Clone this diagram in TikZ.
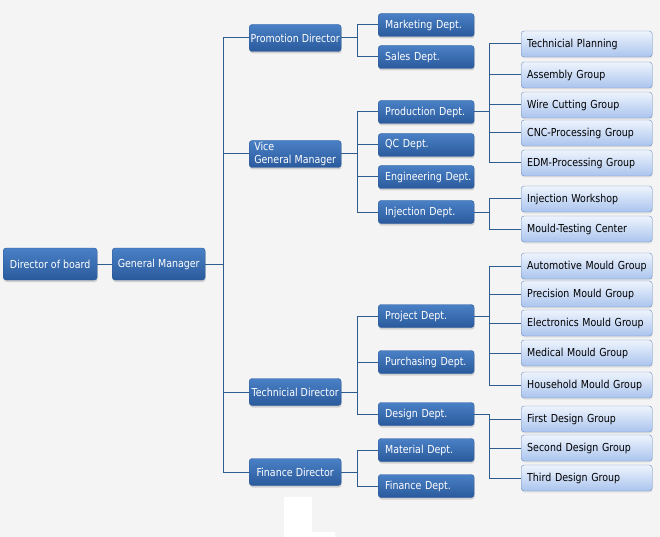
\documentclass[tikz,border=0pt]{standalone}
\usepackage{fontspec}
\setmainfont{DejaVu Sans}[FakeStretch=0.86]
\usetikzlibrary{shadows}

\definecolor{bgcol}{HTML}{F4F4F4}
\definecolor{boxtop}{HTML}{4A80C6}
\definecolor{boxbot}{HTML}{2A5A9C}
\definecolor{grptop}{HTML}{EEF4FD}
\definecolor{grpbot}{HTML}{AAC4EE}
\definecolor{grpline}{HTML}{6E8FC2}
\definecolor{linecol}{HTML}{2E5C8E}

\tikzset{
    darkbox/.style={rounded corners=3pt, top color=boxtop, bottom color=boxbot, draw=boxbot,
        text=white, inner ysep=0pt,
        drop shadow={shadow xshift=0.5pt, shadow yshift=-2pt, opacity=0.3}},
    headbox/.style={darkbox, minimum width=94pt, minimum height=32pt, inner xsep=0pt},
    dirbox/.style={darkbox, minimum width=92pt, minimum height=27pt, inner xsep=0pt, align=center},
    deptbox/.style={darkbox, minimum height=23pt, inner xsep=7pt, text width=82pt, align=left},
    grpbox/.style={rounded corners=3pt, top color=grptop, bottom color=grpbot, draw=grpline,
        text=black, minimum height=26pt, inner ysep=0pt, inner xsep=6pt, text width=119pt, align=left,
        drop shadow={shadow xshift=0.5pt, shadow yshift=-1.5pt, opacity=0.15}},
    conn/.style={draw=linecol, line width=1pt}
}

\begin{document}
\begin{tikzpicture}[x=1pt, y=-1pt, font=\fontsize{11}{13}\selectfont]
    \useasboundingbox (0,0) rectangle (660,537);
    \fill[bgcol] (0,0) rectangle (660,537);
    \fill[white] (284,497) -- (312,497) -- (312,532) -- (335,532) -- (335,537) -- (284,537) -- cycle;

    % top of the chart
    \node[headbox, anchor=west] (dob) at (3,264) {Director of board};
    \node[headbox, anchor=west, minimum width=93pt] (gm) at (112,264) {General Manager};
    \draw[conn] (dob) -- (gm);
    \draw[conn] (gm.east) -- ++(18,0) coordinate (trunk);

    % directors
    \node[dirbox, anchor=west] (promo) at (249,38) {Promotion Director};
    \node[dirbox, anchor=west, align=left] (vice) at (249,154) {Vice\\General Manager};
    \node[dirbox, anchor=west] (tech) at (249,392) {Technicial Director};
    \node[dirbox, anchor=west] (fin) at (249,472) {Finance Director};
    \foreach \n in {promo,vice,tech,fin} {
        \draw[conn] (trunk) |- (\n.west);
    }

    % departments
    \node[deptbox, anchor=west] (mkt) at (378,25) {Marketing Dept.};
    \node[deptbox, anchor=west] (sales) at (378,57) {Sales Dept.};
    \node[deptbox, anchor=west] (prod) at (378,112) {Production~Dept.};
    \node[deptbox, anchor=west] (qc) at (378,145) {QC Dept.};
    \node[deptbox, anchor=west] (eng) at (378,177) {Engineering~Dept.};
    \node[deptbox, anchor=west] (inj) at (378,212) {Injection Dept.};
    \node[deptbox, anchor=west] (proj) at (378,316) {Project Dept.};
    \node[deptbox, anchor=west] (purch) at (378,362) {Purchasing~Dept.};
    \node[deptbox, anchor=west] (design) at (378,414) {Design Dept.};
    \node[deptbox, anchor=west] (mat) at (378,450) {Material Dept.};
    \node[deptbox, anchor=west] (findept) at (378,486) {Finance Dept.};
    \foreach \n in {mkt,sales} {
        \draw[conn] (promo.east) -- ++(16,0) |- (\n.west);
    }
    \foreach \n in {prod,qc,eng,inj} {
        \draw[conn] (vice.east) -- ++(16,0) |- (\n.west);
    }
    \foreach \n in {proj,purch,design} {
        \draw[conn] (tech.east) -- ++(16,0) |- (\n.west);
    }
    \foreach \n in {mat,findept} {
        \draw[conn] (fin.east) -- ++(16,0) |- (\n.west);
    }

    % groups
    \foreach \y/\t [count=\i] in {44/Technicial Planning, 75/Assembly Group, 105/Wire Cutting Group,
            133/CNC-Processing~Group, 163/EDM-Processing~Group} {
        \node[grpbox, anchor=west] (prodg\i) at (521,\y) {\t};
        \draw[conn] (prod.east) -- ++(15,0) |- (prodg\i.west);
    }
    \foreach \y/\t [count=\i] in {199/Injection Workshop, 229/Mould-Testing~Center} {
        \node[grpbox, anchor=west] (injg\i) at (521,\y) {\t};
        \draw[conn] (inj.east) -- ++(15,0) |- (injg\i.west);
    }
    \foreach \y/\t [count=\i] in {266/Automotive~Mould~Group, 294/Precision~Mould~Group,
            323/Electronics~Mould~Group, 353/Medical~Mould~Group, 385/Household~Mould~Group} {
        \node[grpbox, anchor=west] (projg\i) at (521,\y) {\t};
        \draw[conn] (proj.east) -- ++(15,0) |- (projg\i.west);
    }
    \foreach \y/\t [count=\i] in {419/First Design Group, 448/Second Design Group, 478/Third Design Group} {
        \node[grpbox, anchor=west] (desg\i) at (521,\y) {\t};
        \draw[conn] (design.east) -- ++(15,0) |- (desg\i.west);
    }
\end{tikzpicture}
\end{document}
